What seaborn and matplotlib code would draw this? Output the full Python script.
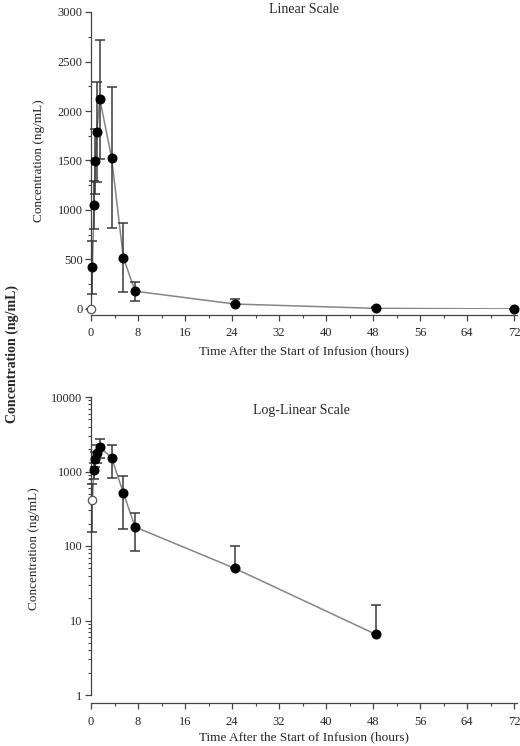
"""
Mean (SD) concentration-time profile, linear and log-linear panels.
"""

import numpy as np
import pandas as pd
import matplotlib
matplotlib.use("Agg")
import matplotlib.pyplot as plt
from matplotlib.ticker import MultipleLocator, LogLocator, FixedLocator, NullFormatter
import seaborn as sns

# Data
time_h = [0, 0.25, 0.5, 0.75, 1.0, 1.5, 3.5, 5.5, 7.5, 24.5, 48.5, 72]
conc_mean = [0, 420, 1050, 1490, 1790, 2120, 1530, 520, 180, 50, 6.5, 0.5]
conc_sd = [0, 265, 245, 330, 505, 600, 710, 350, 95, 50, 9.5, 0]

x_ticks = [0, 8, 16, 24, 32, 40, 48, 56, 64, 72]
lin_ticks = [0, 500, 1000, 1500, 2000, 2500, 3000]
log_ticks = [1, 10, 100, 1000, 10000]

df = pd.DataFrame({"time": time_h, "conc": conc_mean, "sd": conc_sd})
# lower bar dropped where mean - SD would fall below zero
df["lo"] = np.where(df["conc"] - df["sd"] > 0, df["sd"], 0)
df["hi"] = df["sd"]

sns.set_style("ticks")
plt.rcParams["font.family"] = ["Liberation Serif", "DejaVu Serif"]

W, H = 520, 746
fig = plt.figure(figsize=(W / 100, H / 100), dpi=100)

def px_axes(left, top, right, bottom):
    return fig.add_axes([left / W, 1 - bottom / H, (right - left) / W, (bottom - top) / H])

ax1 = px_axes(91, 12, 517, 309)
ax2 = px_axes(91, 397, 517, 695)

LINE_C = "#858585"
BAR_C = "#3a3a3a"


def draw_panel(ax, data, open_idx, offset):
    sns.lineplot(data=data, x="time", y="conc", ax=ax, color=LINE_C,
                 linewidth=1.1, sort=False, zorder=2)
    ax.errorbar(data["time"], data["conc"], yerr=[data["lo"], data["hi"]],
                fmt="none", ecolor=BAR_C, elinewidth=1.1, capsize=3.8,
                capthick=1.1, zorder=3, clip_on=False)
    filled = data.drop(index=open_idx)
    ax.plot(filled["time"], filled["conc"], "o", color="black", markersize=6.2,
            zorder=4, clip_on=False)
    ax.plot(data.loc[open_idx, "time"], data.loc[open_idx, "conc"], "o",
            mfc="white", mec="#555555", markersize=6, mew=0.9, zorder=4, clip_on=False)

    ax.set_xlim(0, 72.5)
    ax.xaxis.set_major_locator(FixedLocator(x_ticks))
    ax.xaxis.set_minor_locator(MultipleLocator(4))
    sns.despine(ax=ax)
    ax.spines["bottom"].set_position(("outward", offset))
    for s in ("left", "bottom"):
        ax.spines[s].set_color("#444444")
        ax.spines[s].set_linewidth(0.9)
    ax.tick_params(which="major", length=4, width=0.9, color="#444444",
                   labelsize=9)
    ax.tick_params(axis="x", which="major", pad=5)
    ax.tick_params(axis="y", which="major", pad=2)
    ax.tick_params(which="minor", length=2.5, width=0.8, color="#444444")
    ax.set_xlabel("Time After the Start of Infusion (hours)", fontsize=9.5)
    ax.set_ylabel("Concentration (ng/mL)", fontsize=9.5)
    ax.xaxis.set_label_coords(0.5, -0.121)


# Linear panel
draw_panel(ax1, df, open_idx=[0], offset=4)
ax1.set_ylim(0, 3000)
ax1.yaxis.set_major_locator(FixedLocator(lin_ticks))
ax1.yaxis.set_minor_locator(MultipleLocator(250))
ax1.yaxis.set_label_coords(-0.108, 0.5)
ax1.text(0.5, 1.007, "Linear Scale", transform=ax1.transAxes, ha="center",
         va="center", fontsize=10)

# Log-linear panel (0 h and 72 h not shown)
log_df = df[(df["conc"] > 1)].reset_index(drop=True)
draw_panel(ax2, log_df, open_idx=[0], offset=6)
ax2.set_yscale("log")
ax2.set_ylim(1, 10000)
ax2.yaxis.set_major_locator(FixedLocator(log_ticks))
ax2.yaxis.set_major_formatter(plt.FuncFormatter(lambda v, p: f"{v:g}"))
ax2.yaxis.set_minor_locator(LogLocator(base=10, subs=np.arange(2, 10)))
ax2.yaxis.set_minor_formatter(NullFormatter())
ax2.yaxis.set_label_coords(-0.12, 0.49)
ax2.text(0.495, 0.956, "Log-Linear Scale", transform=ax2.transAxes, ha="center",
         va="center", fontsize=10)

fig.text(12 / W, 1 - 354 / H, "Concentration (ng/mL)", rotation=90, ha="center",
         va="center", fontsize=10, fontweight="bold")

plt.savefig("out.png", dpi=100)
